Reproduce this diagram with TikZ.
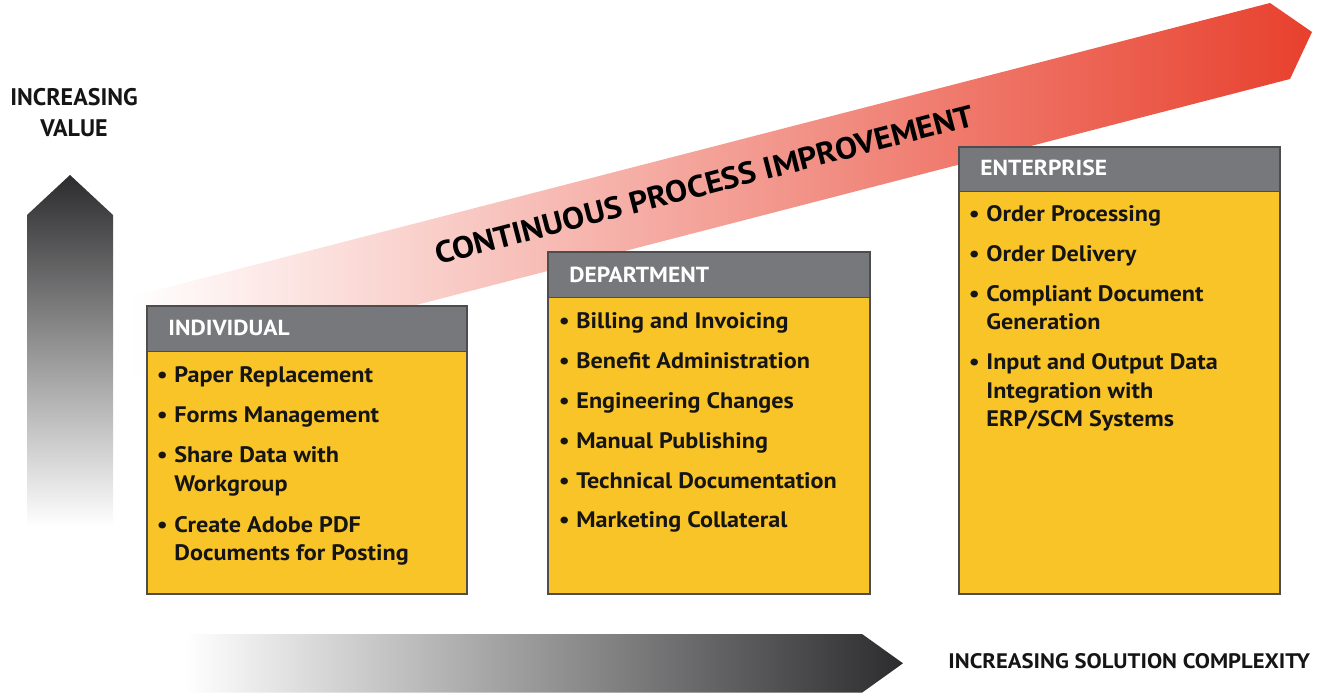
\documentclass[tikz,border=0pt]{standalone}
\usepackage{fontspec}
\setmainfont{PT Sans}
\newfontfamily\widesans{PT Sans}[FakeStretch=1.08]

\definecolor{panelyellow}{HTML}{F9C427}
\definecolor{headgray}{HTML}{76787B}
\definecolor{edgegray}{HTML}{4D4D4F}
\definecolor{inkblack}{HTML}{151515}
\definecolor{bandred}{HTML}{E8402D}
\definecolor{bandmid}{HTML}{F4956B}
\definecolor{arrowdark}{HTML}{2C2C2E}
\definecolor{arrowmid}{HTML}{8C8D91}

\newcommand{\dotmark}{\llap{\textbullet\hspace{3.3pt}}}

\begin{document}
\begin{tikzpicture}[x=0.5pt,y=-0.5pt,
	panel/.style={fill=panelyellow,draw=edgegray,line width=0.7pt},
	headbar/.style={fill=headgray,draw=edgegray,line width=0.7pt},
	headtext/.style={anchor=base west,inner sep=0pt,text=white,font=\widesans\bfseries\fontsize{10.9}{12}\selectfont},
	item/.style={anchor=base west,inner sep=0pt,text=inkblack,font=\widesans\bfseries\fontsize{11.2}{12}\selectfont},
	axislabel/.style={anchor=base,inner sep=0pt,text=inkblack,font=\bfseries\fontsize{12}{14}\selectfont}]
	\useasboundingbox (0,0) rectangle (1332,694);
	\shade[top color=arrowdark,middle color=arrowmid,bottom color=white] (27,527) -- (27,215) -- (70,175) -- (113,215) -- (113,527) -- cycle;
	\shade[left color=white,right color=arrowdark] (185,634) -- (862,634) -- (903,663.3) -- (862,692.7) -- (185,692.7) -- cycle;
	\shade[left color=white,middle color=bandmid,right color=bandred] (130,297) -- (1270,3) -- (1312,32) -- (1290,79) -- (130,379) -- cycle;
	\node[anchor=base,rotate=14.5,inner sep=0pt,text=black,font=\widesans\bfseries\fontsize{15.3}{16}\selectfont] (cpi) at (707,195) {CONTINUOUS PROCESS IMPROVEMENT};

	\node[axislabel] (valtop) at (74,106) {INCREASING};
	\node[axislabel] (valbot) at (74,137) {VALUE};
	\node[axislabel,anchor=base west,font=\widesans\bfseries\fontsize{10.5}{12}\selectfont] (cplx) at (948,668.3) {INCREASING SOLUTION COMPLEXITY};

	\filldraw[panel] (147,306) rectangle (467,594);
	\filldraw[headbar] (147,306) rectangle (467,351.7);
	\node[headtext] (indhead) at (168,336) {INDIVIDUAL};
	\foreach \y/\t [count=\i] in {383/\dotmark Paper Replacement,423/\dotmark Forms Management,463/\dotmark Share Data with,492/Workgroup,532/\dotmark Create Adobe PDF,560/Documents for Posting}
		\node[item] (ind\i) at (174,\y) {\t};

	\filldraw[panel] (548,252) rectangle (870,594);
	\filldraw[headbar] (548,252) rectangle (870,297.5);
	\node[headtext] (dephead) at (569,283) {DEPARTMENT};
	\foreach \y/\t [count=\i] in {329/\dotmark Billing and Invoicing,368.5/\dotmark Benefit Administration,408.5/\dotmark Engineering Changes,448.5/\dotmark Manual Publishing,488.5/\dotmark Technical Documentation,527.5/\dotmark Marketing Collateral}
		\node[item] (dep\i) at (576,\y) {\t};

	\filldraw[panel] (959,147) rectangle (1280,594);
	\filldraw[headbar] (959,147) rectangle (1280,191.5);
	\node[headtext] (enthead) at (980,176) {ENTERPRISE};
	\foreach \y/\t [count=\i] in {222/\dotmark Order Processing,262/\dotmark Order Delivery,302/\dotmark Compliant Document,330/Generation,370/\dotmark Input and Output Data,399/Integration with,427/{ERP/SCM Systems}}
		\node[item] (ent\i) at (986,\y) {\t};
\end{tikzpicture}
\end{document}
